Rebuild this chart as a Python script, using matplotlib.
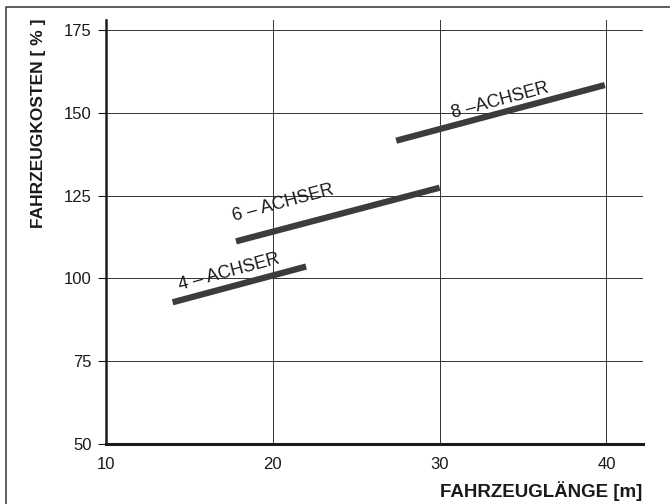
import matplotlib
matplotlib.use("Agg")
import matplotlib.pyplot as plt
from matplotlib.lines import Line2D

plt.rcParams['font.family'] = ['Liberation Sans', 'DejaVu Sans']

# data
series_names = ["4 – ACHSER", "6 – ACHSER", "8 –ACHSER"]
x_start = [14.0, 17.8, 27.4]
x_end = [22.0, 30.0, 39.9]
y_start = [92.8, 111.2, 141.6]
y_end = [103.6, 127.4, 158.4]
label_x = [17.4, 20.6, 33.6]
label_y = [101.8, 122.6, 153.6]
x_ticks = [10, 20, 30, 40]
y_ticks = [50, 75, 100, 125, 150, 175]

fig = plt.figure(figsize=(6.70, 5.04), dpi=100)
ax = fig.add_axes([0.158, 0.119, 0.802, 0.841])
ax.set_xlim(10, 42.2)
ax.set_ylim(50, 178)

ax.spines['top'].set_visible(False)
ax.spines['right'].set_visible(False)
ax.spines['left'].set_linewidth(1.8)
ax.spines['bottom'].set_linewidth(2.2)
ax.spines['left'].set_color('#1a1a1a')
ax.spines['bottom'].set_color('#1a1a1a')

ax.set_xticks(x_ticks)
ax.set_yticks(y_ticks)
ax.tick_params(axis='x', length=0, pad=9, labelsize=12, colors='#1a1a1a')
ax.tick_params(axis='y', length=6, width=0.8, pad=4, labelsize=12, colors='#1a1a1a')
ax.grid(True, color='#333333', linewidth=0.7)
ax.set_axisbelow(True)

for xs, xe, ys, ye in zip(x_start, x_end, y_start, y_end):
    ax.plot([xs, xe], [ys, ye], color='#3c3c3c', linewidth=4.5, solid_capstyle='butt', zorder=3)

for name, lx, ly in zip(series_names, label_x, label_y):
    ax.text(lx, ly, name, rotation=15, ha='center', va='center', fontsize=13,
            color='#1a1a1a', rotation_mode='anchor', zorder=4)

fig.text(0.958, 0.026, "FAHRZEUGLÄNGE [m]", ha='right', va='center', fontsize=13.5,
         fontweight='bold', color='#1a1a1a')
fig.text(0.058, 0.755, "FAHRZEUGKOSTEN [ % ]", ha='center', va='center', rotation=90,
         fontsize=12.5, fontweight='bold', color='#1a1a1a')

fig.lines.append(Line2D([0.009, 0.009, 1.0], [0.0, 0.986, 0.986], transform=fig.transFigure,
                        color='#333333', linewidth=1.1))

fig.savefig("out.png", dpi=100)
